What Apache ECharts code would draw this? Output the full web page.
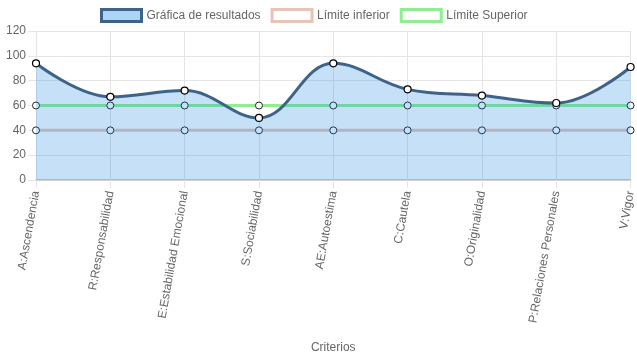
<!DOCTYPE html>
<html>
<head>
<meta charset="utf-8">
<script src="https://cdn.jsdelivr.net/npm/echarts@6/dist/echarts.min.js"></script>
<style>html,body{margin:0;padding:0;background:#fff}#c{width:637px;height:359px}</style>
</head>
<body>
<div id="c"></div>
<script>
const categories = ['A:Ascendencia','R:Responsabilidad','E:Estabilidad Emocional','S:Sociabilidad','AE:Autoestima','C:Cautela','O:Originalidad','P:Relaciones Personales','V:Vigor'];
const resultados = [94, 67, 72, 50, 94, 73, 68, 62, 91];
const limiteInferior = [40, 40, 40, 40, 40, 40, 40, 40, 40];
const limiteSuperior = [60, 60, 60, 60, 60, 60, 60, 60, 60];
const yTicks = {min: 0, max: 120, interval: 20};

const font = 'Liberation Sans, Arial, sans-serif';
const chart = echarts.init(document.getElementById('c'), null, {renderer: 'canvas'});
chart.setOption({
  animation: false,
  textStyle: {fontFamily: font},
  legend: {
    top: 8, left: 100, padding: 0, itemWidth: 40, itemHeight: 12, itemGap: 10,
    icon: 'rect',
    textStyle: {color: '#666', fontSize: 12, fontFamily: font},
    data: [
      {name: 'Gráfica de resultados', itemStyle: {color: 'rgba(20,128,228,0.35)', borderColor: '#3e6388', borderWidth: 3}},
      {name: 'Límite inferior', itemStyle: {color: '#fff', borderColor: '#e8c3b9', borderWidth: 3}},
      {name: 'Límite Superior', itemStyle: {color: '#fff', borderColor: '#90ee90', borderWidth: 3}}
    ]
  },
  grid: {left: 36, right: 4, top: 31, bottom: 179, containLabel: false},
  xAxis: {
    type: 'category', data: categories, boundaryGap: false,
    name: 'Criterios', nameLocation: 'middle', nameGap: 162,
    nameTextStyle: {color: '#666', fontSize: 12, fontFamily: font},
    axisLine: {show: true, lineStyle: {color: '#d0d0d0', width: 2}},
    axisTick: {show: true, length: 8, lineStyle: {color: '#e5e5e5'}},
    axisLabel: {rotate: 80, color: '#666', fontSize: 12, margin: 11, fontFamily: font, interval: 0},
    splitLine: {show: true, lineStyle: {color: '#e5e5e5'}}
  },
  yAxis: {
    type: 'value', min: yTicks.min, max: yTicks.max, interval: yTicks.interval,
    axisLine: {show: false},
    axisTick: {show: true, length: 8, lineStyle: {color: '#e5e5e5'}},
    axisLabel: {color: '#666', fontSize: 12, margin: 10, fontFamily: font},
    splitLine: {show: true, lineStyle: {color: '#e5e5e5'}}
  },
  series: [
    {
      name: 'Gráfica de resultados', type: 'line', data: resultados, smooth: 0.4, z: 4,
      symbol: 'circle', symbolSize: 7, showAllSymbol: true,
      lineStyle: {color: '#3e6388', width: 3},
      itemStyle: {color: '#fff', borderColor: '#000', borderWidth: 1.2},
      areaStyle: {color: 'rgba(20,128,228,0.35)', origin: 'start'}
    },
    {
      name: 'Límite inferior', type: 'line', data: limiteInferior, z: 2,
      symbol: 'circle', symbolSize: 7, showAllSymbol: true,
      lineStyle: {color: '#e8c3b9', width: 3},
      itemStyle: {color: '#fff', borderColor: '#222', borderWidth: 1}
    },
    {
      name: 'Límite Superior', type: 'line', data: limiteSuperior, z: 2,
      symbol: 'circle', symbolSize: 7, showAllSymbol: true,
      lineStyle: {color: '#90ee90', width: 3},
      itemStyle: {color: '#fff', borderColor: '#222', borderWidth: 1}
    }
  ]
});
</script>
</body>
</html>
